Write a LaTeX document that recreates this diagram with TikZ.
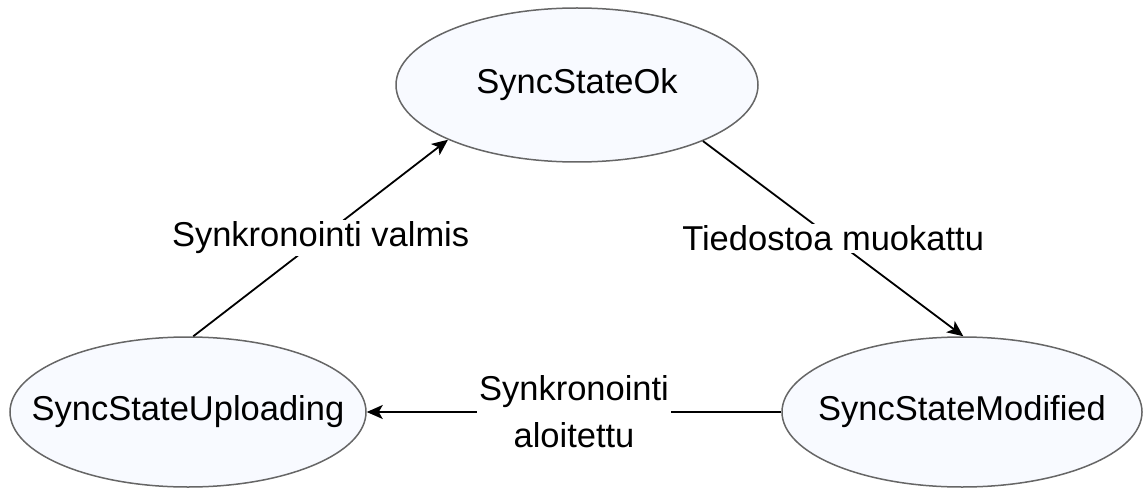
\documentclass[tikz,border=0pt]{standalone}
\usepackage{fontspec}
\setmainfont{Liberation Sans}
\usetikzlibrary{shapes.geometric,arrows.meta}
\tikzset{
  state/.style={ellipse, draw=black!60, line width=1.5pt, fill={rgb,255:red,248;green,250;blue,255}, inner sep=0pt, font=\fontsize{34.5}{41}\selectfont},
  conn/.style={line width=1.8pt, -{Stealth[length=16pt,width=14pt,inset=4pt]}},
  lbl/.style={fill=white, inner sep=2pt, align=center, font=\fontsize{34.5}{47}\selectfont}
}
\begin{document}
\begin{tikzpicture}[x=1pt,y=-1pt]
\useasboundingbox (0,0) rectangle (1147,489);
\node[state, minimum width=362pt, minimum height=154pt] (ok) at (577,85) {\makebox[0pt]{SyncStateOk}};
\node[state, minimum width=356pt, minimum height=150pt] (up) at (188,412) {\makebox[0pt]{SyncStateUploading}};
\node[state, minimum width=360pt, minimum height=150pt] (mod) at (962,412) {\makebox[0pt]{SyncStateModified}};
\draw[conn] (up.86) -- node[lbl] {Synkronointi valmis} (ok.203);
\draw[conn] (ok.336.5) -- node[lbl] {Tiedostoa muokattu} (mod.89);
\draw[conn] (mod.west) -- node[lbl] {Synkronointi\\aloitettu} (up.east);
\end{tikzpicture}
\end{document}
